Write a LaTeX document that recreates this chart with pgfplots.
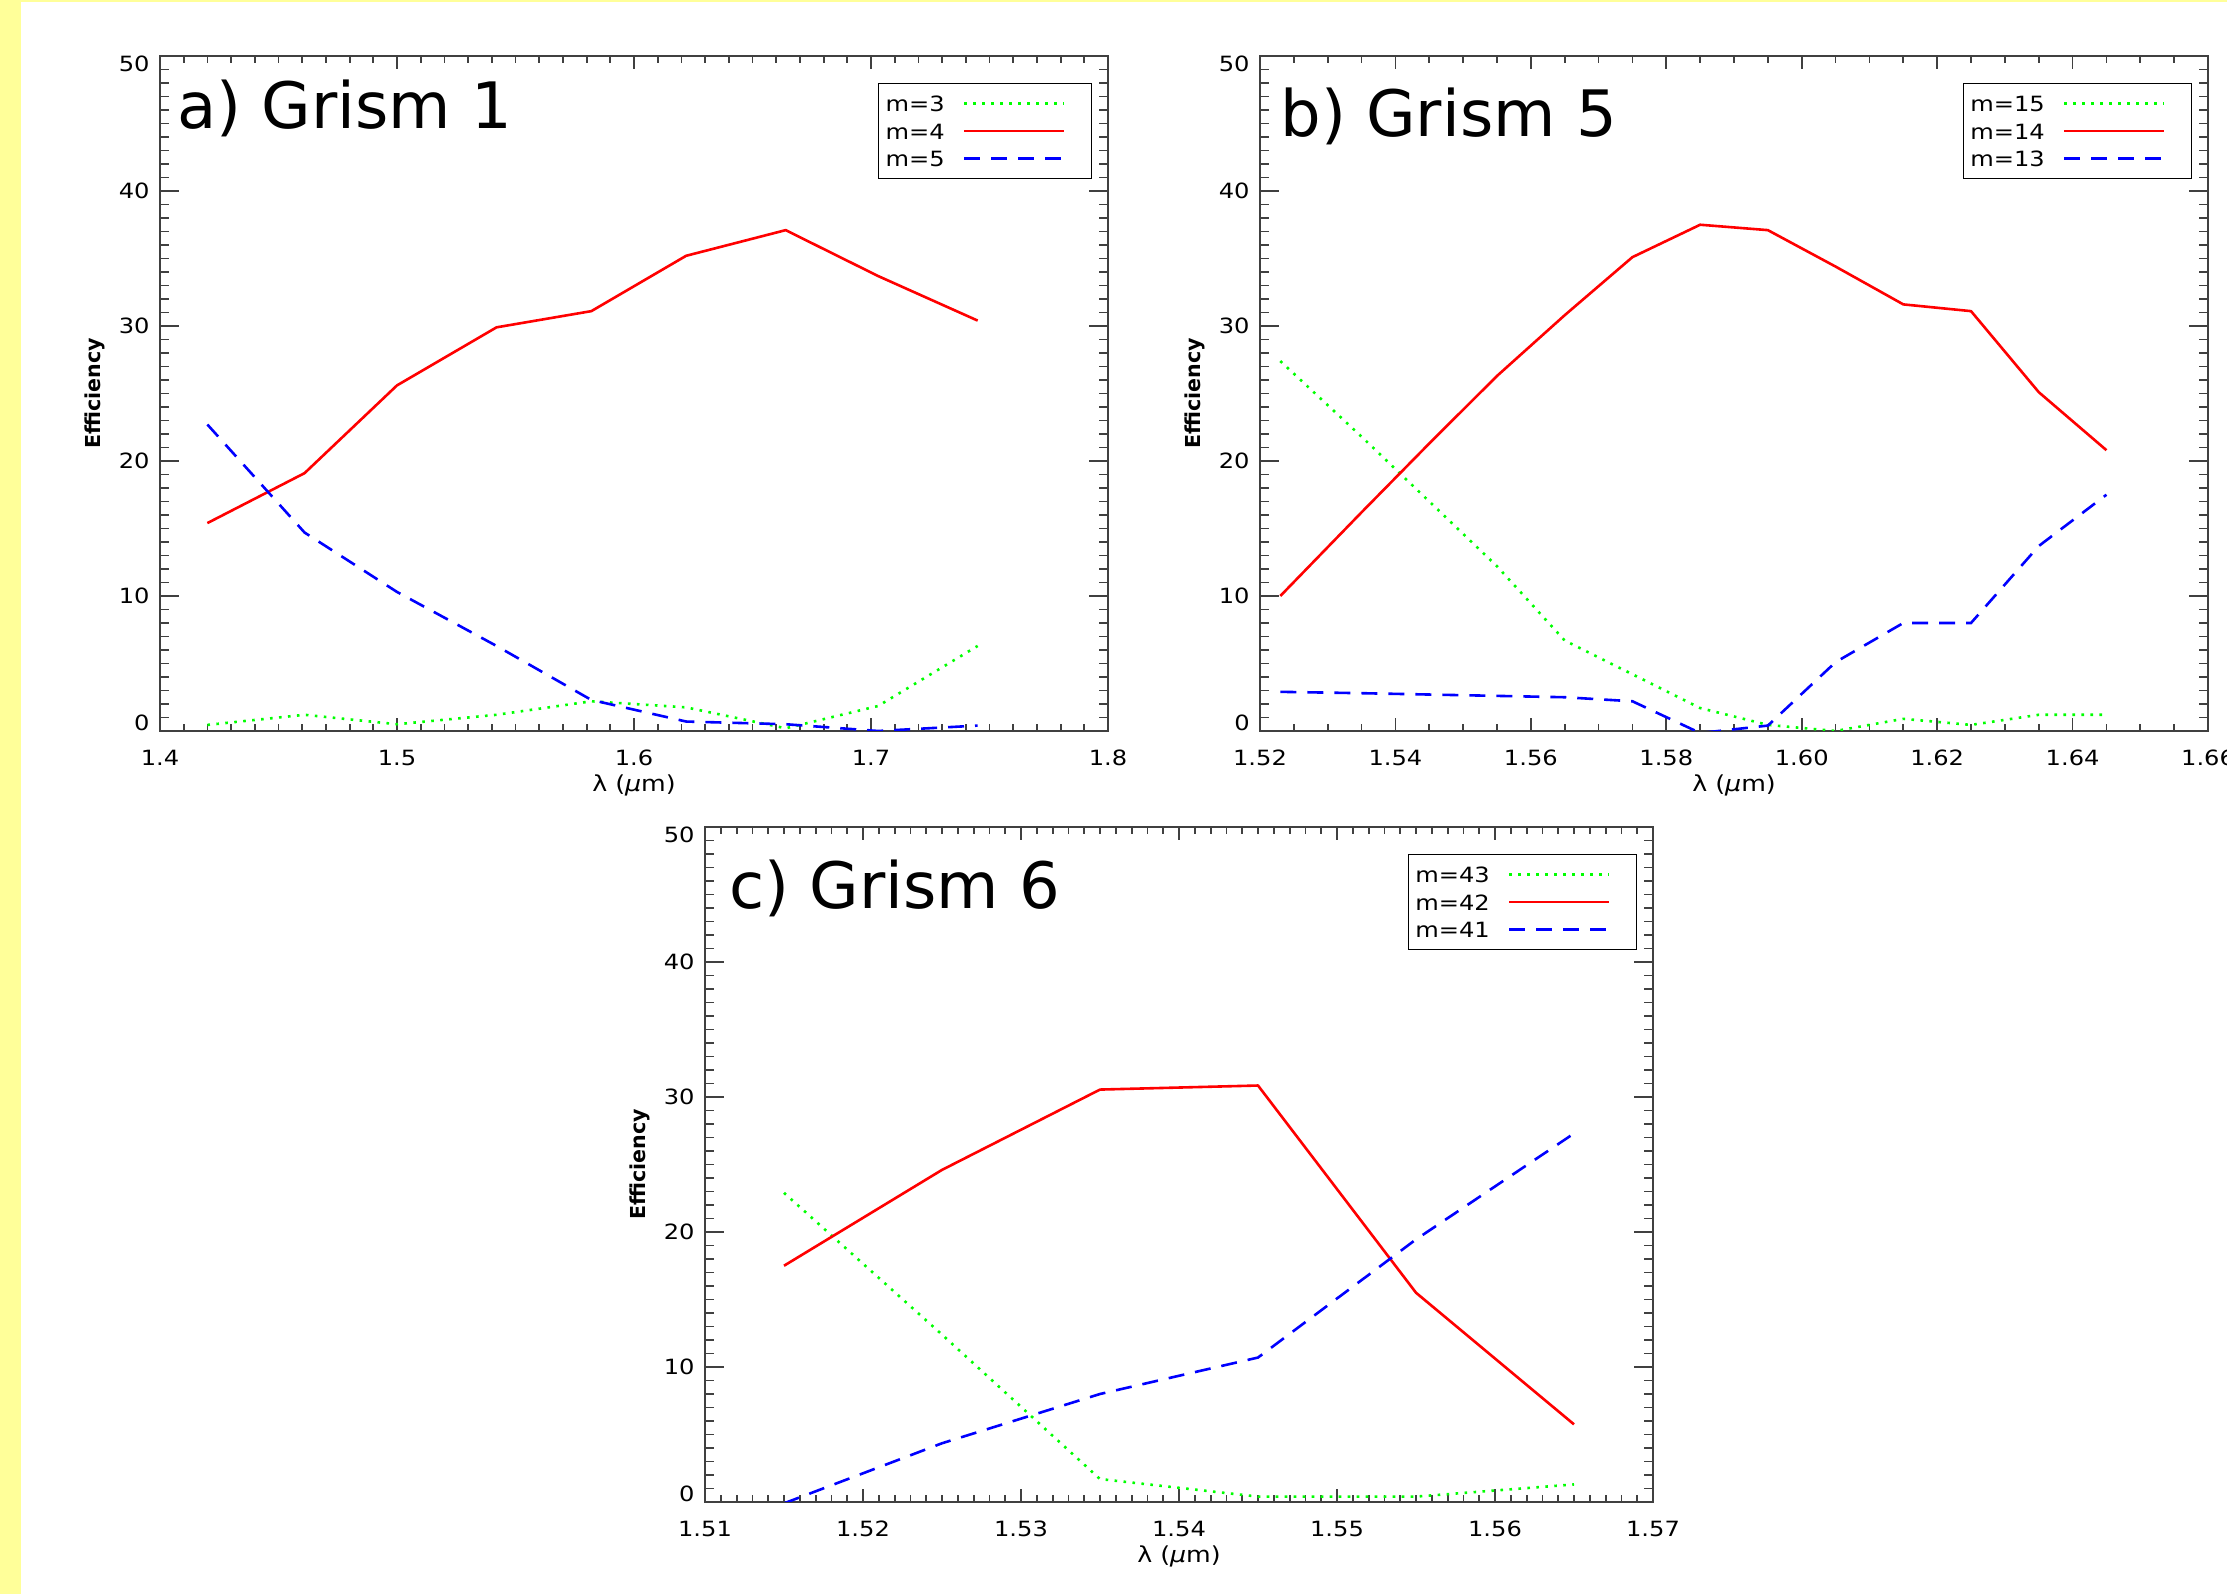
\documentclass[border=0pt]{standalone}
\usepackage{fontspec}
\setmainfont{DejaVu Sans}
\newfontfamily\tickfamily[FakeStretch=1.15]{DejaVu Sans}
\usepackage{pgfplots}
\pgfplotsset{compat=1.18}
\definecolor{bgyellow}{RGB}{255,255,153}
\definecolor{axgray}{RGB}{64,64,64}
\definecolor{cgreen}{RGB}{0,255,0}
\definecolor{cred}{RGB}{255,0,0}
\definecolor{cblue}{RGB}{0,0,255}
\newcommand{\tickfont}{\tickfamily\fontsize{10.5pt}{12pt}\selectfont}
\newcommand{\legfont}{\tickfamily\fontsize{10.5pt}{12pt}\selectfont}
\newcommand{\xlabfont}{\tickfamily\fontsize{11pt}{13pt}\selectfont}
\newcommand{\ylabfont}{\bfseries\fontsize{10.3pt}{12pt}\selectfont}
\newcommand{\titlefont}{\fontsize{32pt}{36pt}\selectfont}
\tikzset{titlenode/.style={anchor=base west, font=\titlefont, inner sep=0pt}}
\pgfplotsset{
  base/.style={
    scale only axis, width=474pt, height=337.5pt,
    ymin=0, ymax=50,
    tick align=inside, tick pos=both,
    axis line style={draw=axgray, line width=0.9pt},
    tick style={draw=axgray, line width=0.9pt},
  },
  mainax/.style={
    base,
    ytick=\empty,
    major tick length=6.65pt, minor tick length=3.35pt,
    xticklabel style={font=\tickfont, inner sep=0pt, anchor=north, yshift=-9.5pt},
    xlabel={λ (\textit{μ}m)},
    every axis x label/.style={at={(rel axis cs:0.5,0)}, anchor=center, yshift=-27pt, font=\xlabfont},
    legend plot pos=right,
    legend cell align=left,
    legend image code/.code={\draw[##1] (0pt,0pt) -- (50pt,0pt); \path (59.5pt,0pt);},
    legend style={at={(rel axis cs:1,1)}, anchor=north east, xshift=-8pt, yshift=-13.5pt,
      draw=black, line width=0.6pt, inner xsep=3.5pt, inner ysep=6pt,
      column sep=9pt, row sep=5.75pt, font=\legfont,
      nodes={inner sep=0pt, text height=8pt, text depth=0pt}},
  },
  yax/.style={
    base,
    xmin=0, xmax=1,
    xtick=\empty,
    ytick={0,10,20,30,40,50},
    yticklabels={\raisebox{0pt}[0pt][0pt]{0},10,20,30,40,\raisebox{-8pt}[0pt][0pt]{50}},
    minor y tick num=9,
    major tick length=9.5pt, minor tick length=4.65pt,
    axis line style={draw=none},
    yticklabel style={font=\tickfont, inner sep=0pt, anchor=east, xshift=-5pt},
    ylabel={Efficiency},
    every axis y label/.style={at={(rel axis cs:0,0.5)}, anchor=center, xshift=-32.5pt, rotate=90, font=\ylabfont},
  },
  gdot/.style={draw=cgreen, line width=1.3pt, dash pattern=on 1.3pt off 3.2pt, mark=none},
  rsol/.style={draw=cred, line width=1.3pt, solid, line join=round, mark=none},
  bdash/.style={draw=cblue, line width=1.3pt, dash pattern=on 8pt off 5.5pt, mark=none},
}
\begin{document}
\begin{tikzpicture}
\path[use as bounding box] (0pt,0pt) rectangle (1113.5pt,797pt);
\fill[white] (0pt,0pt) rectangle (1113.5pt,797pt);
\fill[bgyellow] (0pt,0pt) rectangle (10.5pt,797pt);
\fill[bgyellow] (0pt,796pt) rectangle (1113.5pt,797pt);

% ---------------- panel a
\begin{axis}[mainax, at={(80pt,431.5pt)}, anchor=south west,
  xmin=1.4, xmax=1.8, xtick={1.4,1.5,1.6,1.7,1.8},
  xticklabels={1.4,1.5,1.6,1.7,1.8}, minor x tick num=9]
\addplot[gdot] coordinates {(1.420,0.45)(1.461,1.2)(1.500,0.5)(1.542,1.2)(1.582,2.2)(1.622,1.75)(1.664,0.2)(1.703,1.85)(1.745,6.3)};
\addlegendentry{m=3}
\addplot[rsol] coordinates {(1.420,15.4)(1.461,19.1)(1.500,25.6)(1.542,29.9)(1.582,31.1)(1.622,35.2)(1.664,37.1)(1.703,33.7)(1.745,30.4)};
\addlegendentry{m=4}
\addplot[bdash] coordinates {(1.420,22.7)(1.461,14.7)(1.500,10.3)(1.542,6.3)(1.582,2.3)(1.622,0.7)(1.664,0.5)(1.703,0.0)(1.745,0.4)};
\addlegendentry{m=5}
\node[titlenode] at ([xshift=8.5pt,yshift=-36.3pt]rel axis cs:0,1) {a) Grism 1};
\end{axis}
\begin{axis}[yax, at={(80pt,431.5pt)}, anchor=south west]
\end{axis}

% ---------------- panel b
\begin{axis}[mainax, at={(630pt,431.5pt)}, anchor=south west,
  xmin=1.52, xmax=1.66, xtick={1.52,1.54,1.56,1.58,1.60,1.62,1.64,1.66},
  xticklabels={1.52,1.54,1.56,1.58,1.60,1.62,1.64,1.66}, minor x tick num=3]
\addplot[gdot] coordinates {(1.523,27.4)(1.535,21.8)(1.545,17.0)(1.555,12.2)(1.565,6.7)(1.575,4.2)(1.585,1.7)(1.595,0.45)(1.605,0.0)(1.615,0.9)(1.625,0.45)(1.635,1.2)(1.645,1.2)};
\addlegendentry{m=15}
\addplot[rsol] coordinates {(1.523,10.0)(1.535,16.2)(1.545,21.3)(1.555,26.3)(1.565,30.8)(1.575,35.1)(1.585,37.5)(1.595,37.1)(1.605,34.4)(1.615,31.6)(1.625,31.1)(1.635,25.1)(1.645,20.8)};
\addlegendentry{m=14}
\addplot[bdash] coordinates {(1.523,2.9)(1.535,2.8)(1.545,2.7)(1.555,2.6)(1.565,2.5)(1.575,2.2)(1.585,-0.15)(1.595,0.4)(1.605,5.1)(1.615,8.0)(1.625,8.0)(1.635,13.7)(1.645,17.5)};
\addlegendentry{m=13}
\node[titlenode] at ([xshift=10pt,yshift=-40.5pt]rel axis cs:0,1) {b) Grism 5};
\end{axis}
\begin{axis}[yax, at={(630pt,431.5pt)}, anchor=south west]
\end{axis}

% ---------------- panel c
\begin{axis}[mainax, at={(352.5pt,46pt)}, anchor=south west,
  xmin=1.51, xmax=1.57, xtick={1.51,1.52,1.53,1.54,1.55,1.56,1.57},
  xticklabels={1.51,1.52,1.53,1.54,1.55,1.56,1.57}, minor x tick num=9]
\addplot[gdot] coordinates {(1.515,22.9)(1.525,12.4)(1.535,1.7)(1.545,0.4)(1.555,0.4)(1.565,1.3)};
\addlegendentry{m=43}
\addplot[rsol] coordinates {(1.515,17.5)(1.525,24.6)(1.535,30.55)(1.545,30.85)(1.555,15.5)(1.565,5.75)};
\addlegendentry{m=42}
\addplot[bdash] coordinates {(1.515,-0.1)(1.525,4.35)(1.535,8.0)(1.545,10.7)(1.555,19.45)(1.565,27.3)};
\addlegendentry{m=41}
\node[titlenode] at ([xshift=12pt,yshift=-41pt]rel axis cs:0,1) {c) Grism 6};
\end{axis}
\begin{axis}[yax, at={(352.5pt,46pt)}, anchor=south west]
\end{axis}
\end{tikzpicture}
\end{document}
